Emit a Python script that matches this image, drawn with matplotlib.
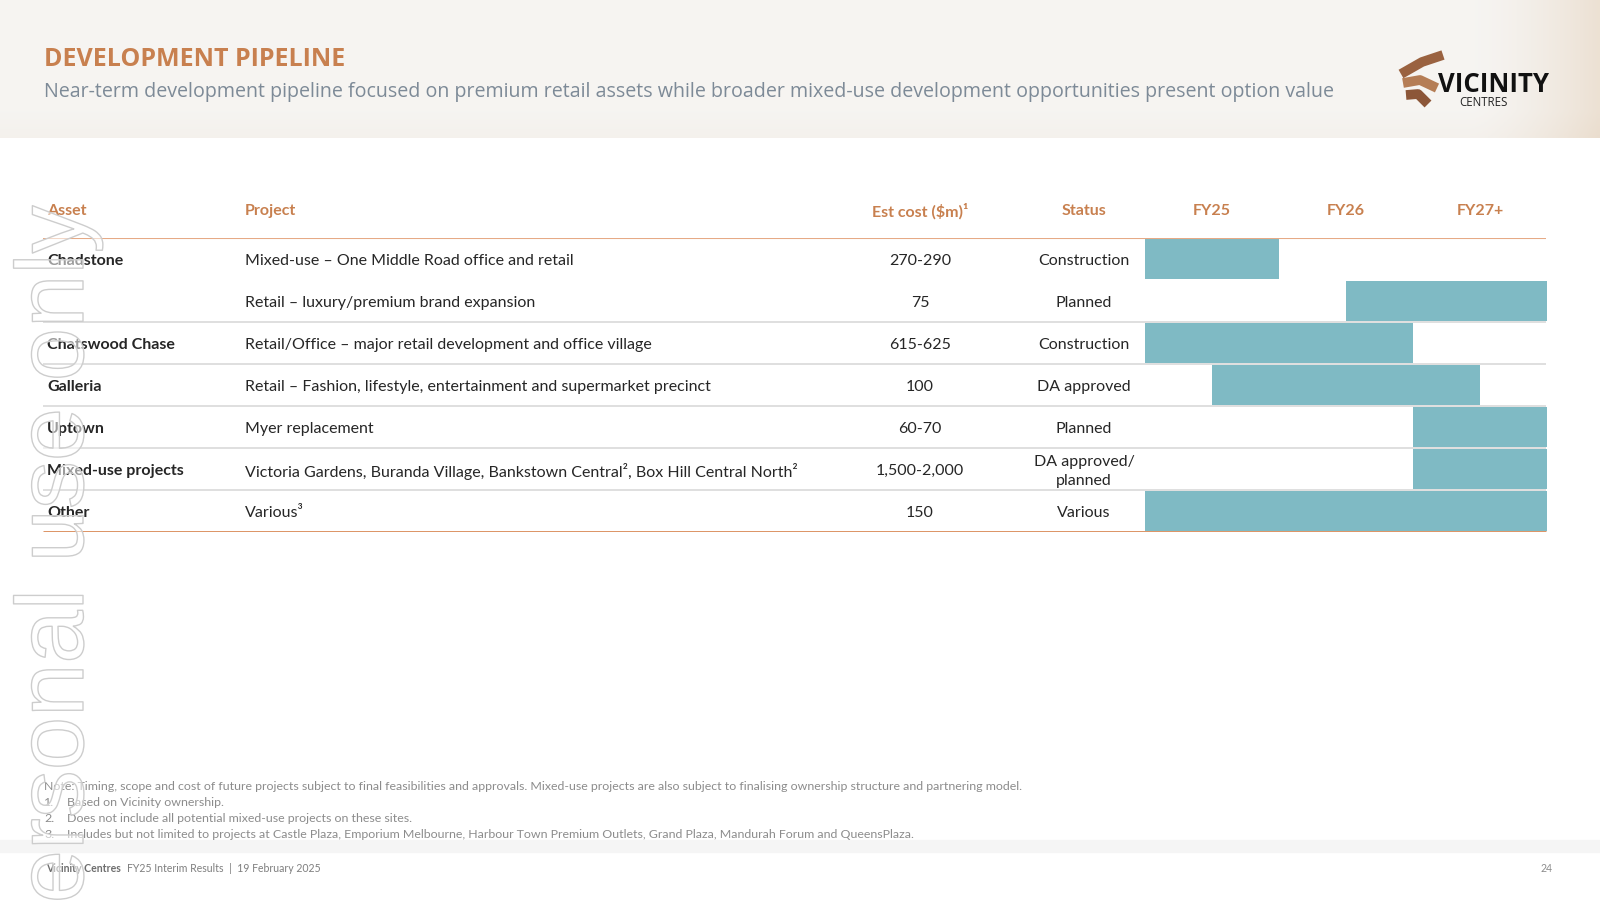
import matplotlib.pyplot as plt
import matplotlib.patheffects as pe
import numpy as np

# ---- data -------------------------------------------------------------
assets = ["Chadstone", "", "Chatswood Chase", "Galleria", "Uptown",
          "Mixed-use projects", "Other"]
projects = [
    "Mixed-use \u2013 One Middle Road office and retail",
    "Retail \u2013 luxury/premium brand expansion",
    "Retail/Office \u2013 major retail development and office village",
    "Retail \u2013 Fashion, lifestyle, entertainment and supermarket precinct",
    "Myer replacement",
    "Victoria Gardens, Buranda Village, Bankstown Central\u00b2, Box Hill Central North\u00b2",
    "Various\u00b3",
]
est_cost = ["270-290", "75", "615-625", "100", "60-70", "1,500-2,000", "150"]
status = ["Construction", "Planned", "Construction", "DA approved", "Planned",
          "DA approved/\nplanned", "Various"]
# timing in half-years from start of FY25 (0) to end of FY27+ (6)
bar_start = [0, 3, 0, 1, 4, 4, 0]
bar_end = [2, 6, 4, 5, 6, 6, 6]
years = ["FY25", "FY26", "FY27+"]
columns = ["Asset", "Project", "Est cost ($m)\u00b9", "Status"]

notes = [
    "Note: Timing, scope and cost of future projects subject to final feasibilities and approvals. "
    "Mixed-use projects are also subject to finalising ownership structure and partnering model.",
    "Based on Vicinity ownership.",
    "Does not include all potential mixed-use projects on these sites.",
    "Includes but not limited to projects at Castle Plaza, Emporium Melbourne, Harbour Town Premium "
    "Outlets, Grand Plaza, Mandurah Forum and QueensPlaza.",
]

ORANGE = "#C8804F"
TEAL = "#7FBAC4"
DARK = "#262626"
TFONT = "Lato"

fig = plt.figure(figsize=(16, 9), dpi=100)

# background axes in pixel coordinates
bg = fig.add_axes([0, 0, 1, 1])
bg.set_xlim(0, 1600)
bg.set_ylim(900, 0)
bg.axis("off")

# header gradient band
gx = np.linspace(0, 1, 400)
gy = np.linspace(0, 1, 60)
X, Y = np.meshgrid(gx, gy)
base = np.array([0.965, 0.958, 0.948])
warm = np.array([0.91, 0.85, 0.78])
w = np.clip((X - 0.92) / 0.08, 0, 1) ** 1.5 * 0.7 + np.clip((Y - 0.8) / 0.2, 0, 1) * 0.12
img = base[None, None, :] * (1 - w[..., None]) + warm[None, None, :] * w[..., None]
bg.imshow(img, extent=[0, 1600, 138, 0], aspect="auto", zorder=0)

bg.text(44, 60, "DEVELOPMENT PIPELINE", fontsize=18, fontweight="bold",
        color=ORANGE, family="Open Sans", va="center")
bg.text(44, 92, "Near-term development pipeline focused on premium retail assets while broader "
        "mixed-use development opportunities present option value",
        fontsize=14.15, color="#7D8A97", family="Open Sans", va="center")

# logo
rib = [((1401, 74), (1422, 62), (1443, 55)),
       ((1403, 83), (1420, 80), (1437, 88)),
       ((1406, 95), (1418, 94), (1428, 104))]
for i, pts in enumerate(rib):
    xs, ys = zip(*pts)
    bg.plot(xs, ys, color=["#9A6240", "#B57D55", "#8C5638"][i], lw=7,
            solid_capstyle="butt", zorder=2)
bg.text(1438, 84, "VICINITY", fontsize=18.5, fontweight="bold", color="#111111",
        family="Open Sans", va="center")
bg.text(1459, 102, "CENTRES", fontsize=8.3, color="#222222", family="Open Sans", va="center")

# footnotes
NFS = 8.9
bg.text(44, 787, notes[0], fontsize=NFS, color="#8C8C8C", family=TFONT, va="center")
for i, n in enumerate(notes[1:]):
    yy = 803 + i * 16
    bg.text(44, yy, f"{i + 1}.", fontsize=NFS, color="#8C8C8C", family=TFONT, va="center")
    bg.text(67, yy, n, fontsize=NFS, color="#8C8C8C", family=TFONT, va="center")

# footer
bg.axhspan(840, 852, color="#F5F5F5", zorder=0)
bg.text(46, 869, "Vicinity Centres", fontsize=7.6, fontweight="bold", color="#6E6E6E",
        family=TFONT, va="center")
bg.text(127, 869, "FY25 Interim Results  |  19 February 2025", fontsize=7.6, color="#7F7F7F",
        family=TFONT, va="center")
bg.text(1553, 868, "24", fontsize=7.6, color="#8C8C8C", family=TFONT, va="center", ha="right")

# ---- gantt axes -------------------------------------------------------
top_px, bot_px = 238, 532
g_left, g_right = 1145, 1547
gax = fig.add_axes([g_left / 1600, (900 - bot_px) / 900,
                    (g_right - g_left) / 1600, (bot_px - top_px) / 900])
gax.set_xlim(0, 6)
gax.set_ylim(len(assets), 0)
gax.axis("off")
rows = np.arange(len(assets)) + 0.5
gax.barh(rows, np.array(bar_end) - np.array(bar_start), left=bar_start,
         height=0.96, color=TEAL, zorder=1)
hdr_y = -0.64
for i, yl in enumerate(years):
    gax.text(2 * i + 1, hdr_y, yl, fontsize=11.5, fontweight="bold", color=ORANGE,
             family=TFONT, ha="center", va="center", clip_on=False)

# ---- table axes -------------------------------------------------------
tax = fig.add_axes([0, (900 - bot_px) / 900, 1, (bot_px - top_px) / 900], zorder=2)
tax.set_xlim(0, 1600)
tax.set_ylim(len(assets), 0)
tax.axis("off")
tax.patch.set_alpha(0)

col_x = [47, 245, 920, 1084]
col_ha = ["left", "left", "center", "center"]
for cx, ha, name in zip(col_x, col_ha, columns):
    tax.text(cx, hdr_y, name, fontsize=11.5, fontweight="bold", color=ORANGE,
             family=TFONT, ha=ha, va="center", clip_on=False)

for i, r in enumerate(rows):
    ry = r + 0.05
    tax.text(col_x[0], ry, assets[i], fontsize=11.5, fontweight="bold", color=DARK,
             family=TFONT, va="center")
    tax.text(col_x[1], ry, projects[i], fontsize=11.5, color=DARK, family=TFONT, va="center")
    tax.text(col_x[2], ry, est_cost[i], fontsize=11.5, color=DARK, family=TFONT,
             va="center", ha="center")
    tax.text(col_x[3], ry, status[i], fontsize=11.5, color=DARK, family=TFONT,
             va="center", ha="center", linespacing=1.45)

tax.hlines([2, 3, 4, 5, 6], 43, 1546, color="#D9D9D9", lw=1.2)
tax.hlines([0], 43, 1546, color="#E6AA86", lw=1.5)
tax.hlines([len(assets)], 43, 1546, color="#D98A56", lw=2)

# ---- watermark --------------------------------------------------------
fig.text(83, 205, "For personal use only", transform=bg.transData, rotation=90,
         rotation_mode="anchor", ha="right", va="baseline", fontsize=69,
         family="Liberation Sans", color=(1, 1, 1, 0.55), zorder=20,
         path_effects=[pe.Stroke(linewidth=1.0, foreground="#CDCDCD")])

fig.savefig("out.png", dpi=100)
